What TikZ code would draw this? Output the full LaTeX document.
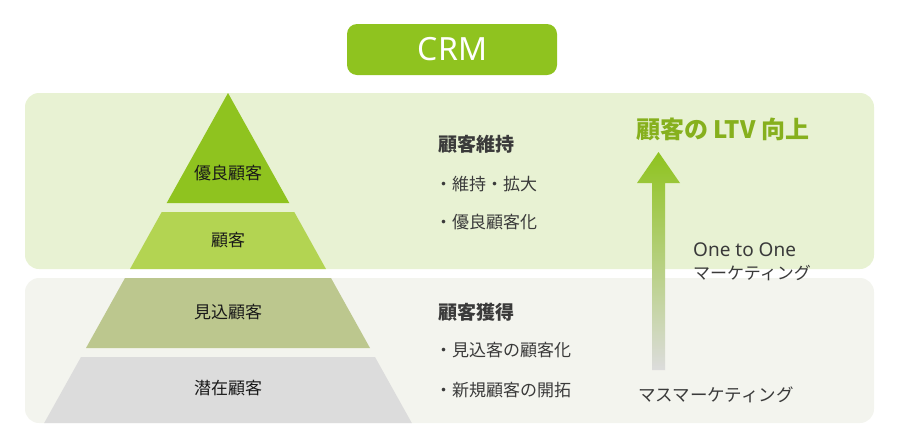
\documentclass[tikz,border=0pt]{standalone}
\usepackage{fontspec}
\setmainfont{Noto Sans CJK JP}
\newfontfamily\latinfont{Noto Sans}
\definecolor{crmgreen}{HTML}{8FC31F}
\definecolor{panelup}{HTML}{E8F2D3}
\definecolor{paneldown}{HTML}{F3F4EE}
\definecolor{tiertwo}{HTML}{B3D452}
\definecolor{tierthree}{HTML}{BCC78E}
\definecolor{tierfour}{HTML}{DCDCDC}
\definecolor{ltvgreen}{HTML}{86B01D}
\definecolor{txtdark}{HTML}{3A3A3A}
\definecolor{txtblack}{HTML}{1A1A1A}
\tikzset{
  cjk/.style={inner sep=0pt},
  tierlabel/.style={cjk, anchor=base, font=\fontsize{17}{17}\selectfont, text=txtblack},
  headtxt/.style={cjk, anchor=base west, font=\bfseries\fontsize{19}{19}\selectfont, text=txtdark},
  itemtxt/.style={cjk, anchor=base west, font=\fontsize{17}{17}\selectfont, text=txtdark},
  panel/.style={rounded corners=14pt},
}
\begin{document}
\begin{tikzpicture}[x=1pt,y=-1pt]
\useasboundingbox (0,0) rectangle (900,445);
% CRM header
\fill[crmgreen, rounded corners=10pt] (347,24) rectangle (557,75);
\node[inner sep=0pt, text=white, font=\latinfont\fontsize{32}{32}\selectfont] (crm) at (452.5,49.5) {CRM};
% panels
\fill[panelup, panel] (25,93) rectangle (874,269);
\fill[paneldown, panel] (25,278) rectangle (874,423);
% pyramid
\fill[crmgreen] (228,93) -- (289.3,203) -- (166.7,203) -- cycle;
\fill[tiertwo] (161.7,212) -- (294.3,212) -- (326,269) -- (130,269) -- cycle;
\fill[tierthree] (125,278) -- (331,278) -- (370,348) -- (86,348) -- cycle;
\fill[tierfour] (81,357) -- (375,357) -- (411.8,423) -- (44.2,423) -- cycle;
\node[tierlabel] (t1) at (228,179.5) {優良顧客};
\node[tierlabel] (t2) at (228,246.5) {顧客};
\node[tierlabel] (t3) at (228,318.5) {見込顧客};
\node[tierlabel] (t4) at (228,394.5) {潜在顧客};
% right texts
\node[headtxt] (h1) at (438,151.2) {顧客維持};
\node[itemtxt] (i1) at (435,190.5) {・維持・拡大};
\node[itemtxt] (i2) at (435,228.5) {・優良顧客化};
\node[headtxt] (h2) at (438,319.2) {顧客獲得};
\node[itemtxt] (i3) at (435,356.5) {・見込客の顧客化};
\node[itemtxt] (i4) at (435,396.5) {・新規顧客の開拓};
% arrow
\shade[top color=crmgreen, bottom color=tierfour]
  (658.5,152) -- (680,183) -- (665,183) -- (665,370) -- (652,370) -- (652,183) -- (637,183) -- cycle;
\node[cjk, anchor=base west, font=\bfseries\fontsize{24}{24}\selectfont, text=ltvgreen] (ltv) at (636,138.1) {顧客の LTV 向上};
\node[inner sep=0pt, anchor=base west, font=\latinfont\fontsize{19}{19}\selectfont, text=txtdark] (oto) at (693,256.8) {One to One};
\node[itemtxt] (otom) at (693,279) {マーケティング};
\node[itemtxt, font=\fontsize{17.5}{17.5}\selectfont] (mass) at (638,401.2) {マスマーケティング};
\end{tikzpicture}
\end{document}
